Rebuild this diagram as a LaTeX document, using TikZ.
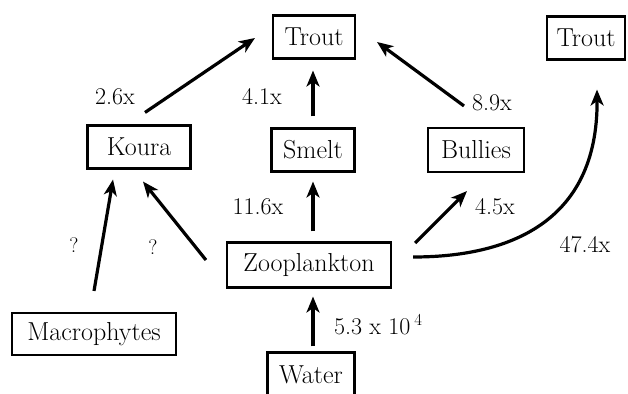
\documentclass[tikz,border=0pt]{standalone}
\usetikzlibrary{arrows.meta}
\begin{document}
\begin{tikzpicture}[x=1pt,y=-1pt,
  box/.style={draw,line width=2.1pt,inner sep=0pt,minimum height=43pt,
    font=\fontsize{26}{30}\selectfont},
  arr/.style={line width=3.2pt,-{Stealth[length=16pt,width=13pt,inset=4.5pt]}},
  lab/.style={font=\fontsize{24}{28}\selectfont,inner sep=0pt},
  qlab/.style={font=\fontsize{21}{24}\selectfont,inner sep=0pt}]
\useasboundingbox (0,0) rectangle (628,393);

% organisms and source
\node[box,minimum width=82pt] (troutA) at (314,37) {Trout};
\node[box,minimum width=78pt] (troutB) at (586,38) {Trout};
\node[box,minimum width=103pt] (koura) at (139,147) {Koura};
\node[box,minimum width=83pt] (smelt) at (313,150) {Smelt};
\node[box,minimum width=96pt,minimum height=44pt] (bullies) at (476,150) {Bullies};
\node[box,minimum width=164pt,minimum height=45pt] (zoo) at (309,265) {Zooplankton};
\node[box,minimum width=164pt,minimum height=42pt] (macro) at (94,334) {Macrophytes};
\node[box,minimum width=87pt,minimum height=45pt] (water) at (311,375) {Water};

% transfer arrows
\draw[arr] ([shift={(6,-12)}]koura.north) -- ([shift={(-17,1)}]troutA.west);
\draw[arr] ([shift={(0,-11)}]smelt.north) -- ([shift={(-1,11)}]troutA.south);
\draw[arr] ([shift={(-12,-21)}]bullies.north) -- ([shift={(21,5)}]troutA.east);
\draw[arr] ([shift={(0,-10)}]zoo.north -| smelt.south) -- ([shift={(0,9)}]smelt.south);
\draw[arr] ([shift={(-20,-5)}]zoo.west) -- ([shift={(4,12)}]koura.south);
\draw[arr] ([shift={(0,-21)}]macro.north) -- ([shift={(-26,10)}]koura.south);
\draw[arr] ([shift={(23,-22)}]zoo.east) -- ([shift={(-9,18)}]bullies.south);
\draw[arr] ([shift={(21,-8)}]zoo.east) .. controls (505,257) and (598,225) .. ([shift={(11,29)}]troutB.south);
\draw[arr] ([shift={(2,-5)}]water.north) -- ([shift={(4,8)}]zoo.south);

% factors
\node[lab] (l1) at (115,97) {2.6x};
\node[lab] (l2) at (262,96) {4.1x};
\node[lab] (l3) at (492,103) {8.9x};
\node[lab] (l4) at (258,207) {11.6x};
\node[lab] (l5) at (495,207) {4.5x};
\node[lab] (l6) at (585,245) {47.4x};
\node[qlab] (q1) at (74,245) {?};
\node[qlab] (q2) at (153,247) {?};
\node[lab,anchor=west] (l7) at (334,325) {5.3 x 10\,\textsuperscript{4}};
\end{tikzpicture}
\end{document}
